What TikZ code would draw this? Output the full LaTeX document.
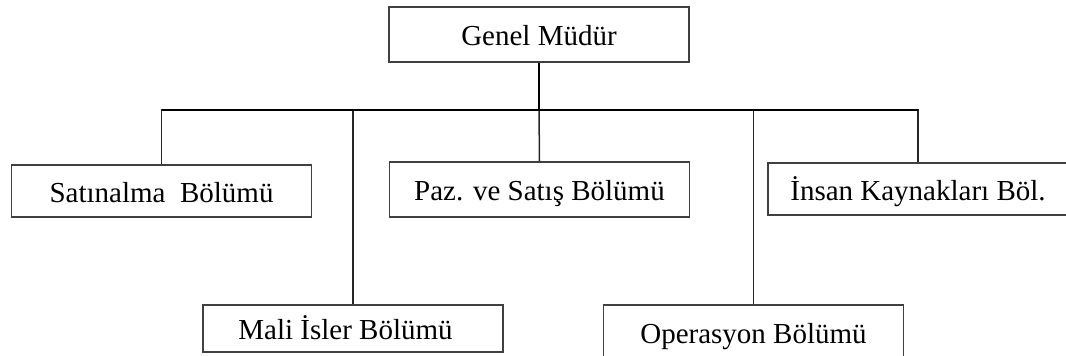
\documentclass[tikz,border=0pt]{standalone}
\usepackage{fontspec}
\setmainfont{Liberation Serif}
\begin{document}
\begin{tikzpicture}[x=1pt,y=-1pt,
  unit/.style={draw=black!75, line width=1.6pt, rectangle, inner sep=0pt,
    minimum width=300pt, minimum height=#1, text height=22pt, text depth=0pt,
    font=\fontsize{29}{30}\selectfont},
  unit/.default=54pt,
  link/.style={draw=black!85, line width=1.5pt},
  trunk/.style={draw=black, line width=2.7pt},
  bar/.style={draw=black, line width=2.2pt}]
\useasboundingbox (0,0) rectangle (1066,356);
\clip (0,0) rectangle (1066,356);

% head of the organisation
\node[unit=55pt] (gm) at (539,34.5) {Genel Müdür};

% departments, upper row
\node[unit=52pt] (sat) at (161.5,191) {Satınalma\ \ Bölümü};
\node[unit=55pt] (paz) at (539.5,189.5) {Paz. ve Satış Bölümü};
\node[unit=52pt] (ins) at (918,189) {İnsan Kaynakları Böl.};

% departments, lower row
\node[unit=47pt] (mali) at (353,328.5) {\hspace*{-15pt}Mali İsler Bölümü};
\node[unit=54pt] (ops) at (753.5,332) {Operasyon Bölümü};

% connectors
\coordinate (hub) at (539,110);
\draw[link] (hub) -| (sat.north);
\draw[link] (hub) -| (mali.north);
\draw[link] (hub) -- (paz.north);
\draw[link] (hub) -| (ops.north);
\draw[link] (hub) -| (ins.north);
\draw[bar] (hub) -- (sat.north |- hub);
\draw[bar] (hub) -- (ins.north |- hub);
\draw[trunk] (gm.south) -- (hub);
\end{tikzpicture}
\end{document}
